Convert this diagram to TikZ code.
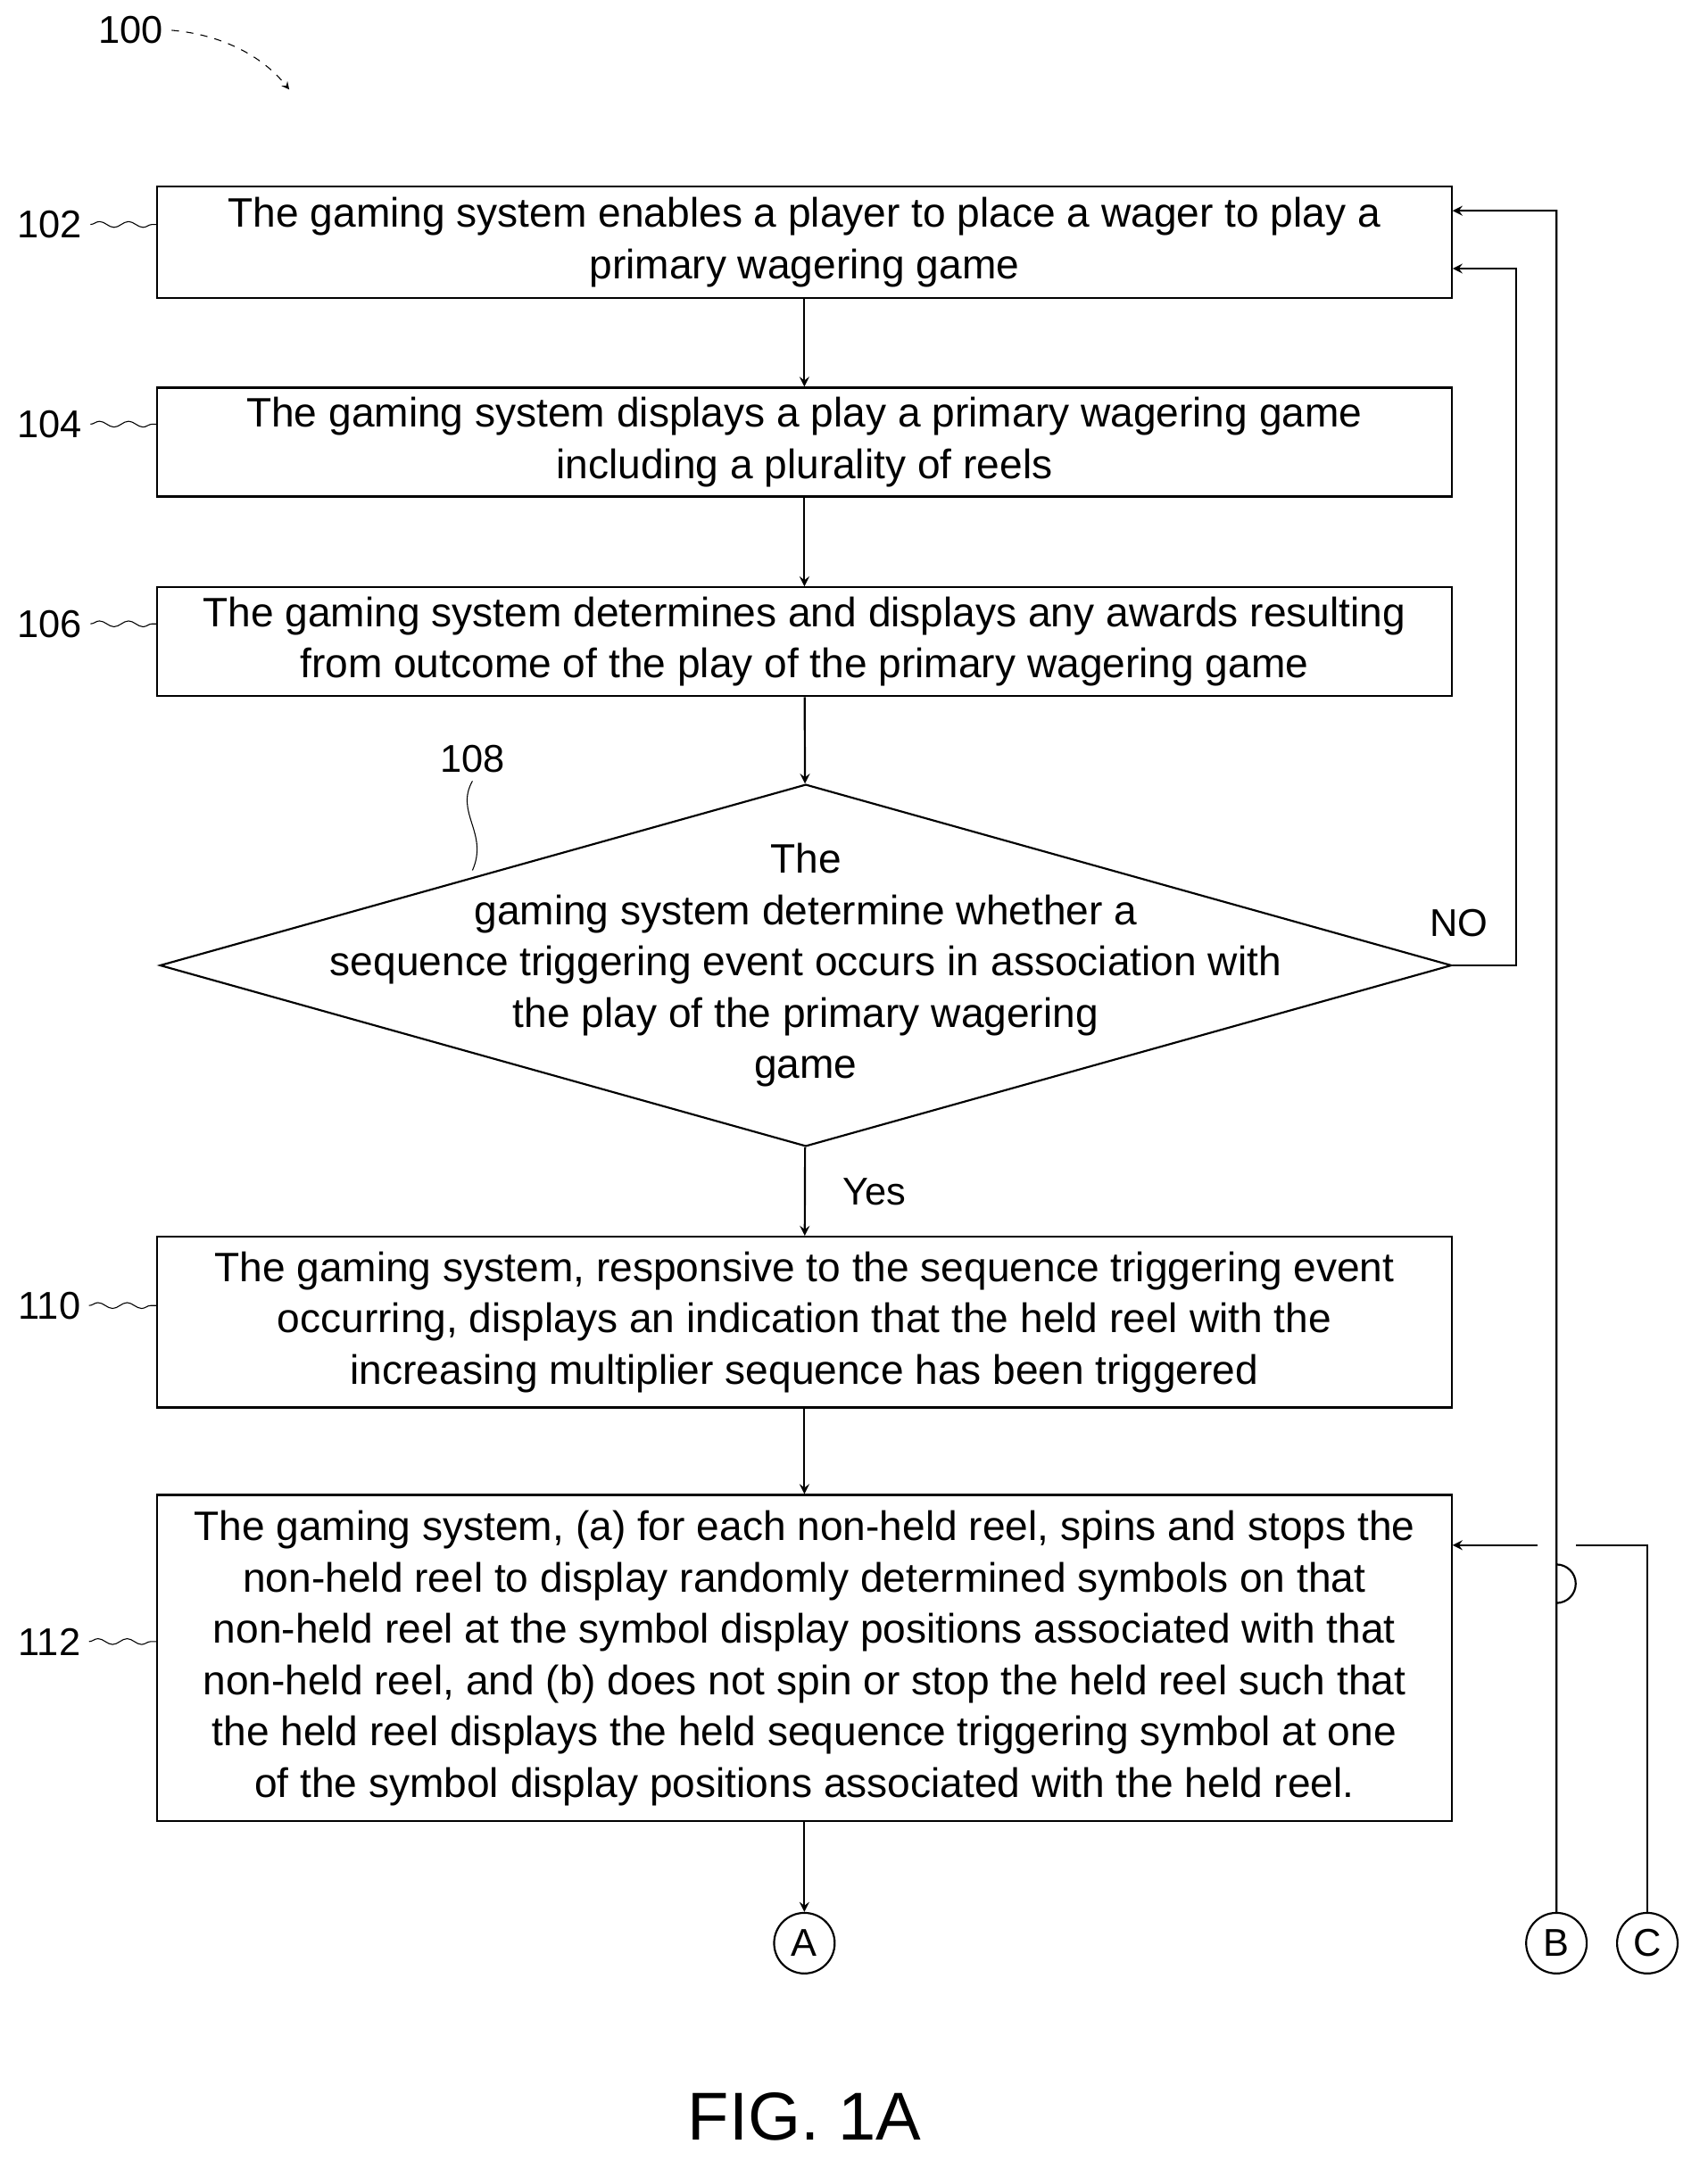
\documentclass[tikz,border=0pt]{standalone}
\usepackage{fontspec}
\setmainfont{Liberation Sans}
\usetikzlibrary{shapes.geometric, arrows, positioning, decorations.pathmorphing}

\begin{document}
\begin{tikzpicture}[
    x=0.02cm, y=-0.02cm,
    box/.style={rectangle, draw, thick, align=center, minimum width=18.8cm, inner sep=0pt, font=\fontsize{17}{21.2}\selectfont},
    decision/.style={diamond, draw, thick, minimum width=18.76cm, minimum height=5.26cm, inner sep=0pt},
    conn/.style={circle, draw, thick, minimum size=0.88cm, inner sep=0pt, font=\fontsize{16}{18}\selectfont},
    ref/.style={font=\fontsize{16}{18}\selectfont},
    lead/.style={thin, decorate, decoration={snake, amplitude=1.2pt, segment length=12pt}},
    arrow/.style={->, >=stealth, thick}
]
\useasboundingbox (0,0) rectangle (1240,1575);

% Boxes
\node[box, minimum height=1.62cm] (b102) at (584,176) {The gaming system enables a player to place a wager to play a\\primary wagering game};
\node[box, minimum height=1.58cm] (b104) at (584,321) {The gaming system displays a play a primary wagering game\\including a plurality of reels};
\node[box, minimum height=1.58cm] (b106) at (584,466) {The gaming system determines and displays any awards resulting\\from outcome of the play of the primary wagering game};
\node[decision] (d108) at (585,701) {};
\node[align=center, font=\fontsize{17}{21.2}\selectfont] at (d108) {The\\gaming system determine whether a\\sequence triggering event occurs in association with\\the play of the primary wagering\\game};
\node[box, minimum height=2.48cm] (b110) at (584,960) {The gaming system, responsive to the sequence triggering event\\occurring, displays an indication that the held reel with the\\increasing multiplier sequence has been triggered};
\node[box, minimum height=4.74cm] (b112) at (584,1204) {The gaming system, (a) for each non-held reel, spins and stops the\\non-held reel to display randomly determined symbols on that\\non-held reel at the symbol display positions associated with that\\non-held reel, and (b) does not spin or stop the held reel such that\\the held reel displays the held sequence triggering symbol at one\\of the symbol display positions associated with the held reel.};

% Connectors
\node[conn] (cA) at (584,1411) {A};
\node[conn] (cB) at (1130,1411) {B};
\node[conn] (cC) at (1196,1411) {C};

% Reference numerals
\node[ref] (r100) at (95,22) {100};
\node[ref] (r102) at (36,163) {102};
\node[ref] (r104) at (36,308) {104};
\node[ref] (r106) at (36,453) {106};
\node[ref] (r108) at (343,551) {108};
\node[ref] (r110) at (36,948) {110};
\node[ref] (r112) at (36,1192) {112};
\draw[thin, dashed, ->, >=stealth] (r100.east) .. controls (160,25) and (190,40) .. (210,65);
\draw[lead] (r102.east) -- (b102.west |- r102.east);
\draw[lead] (r104.east) -- (b104.west |- r104.east);
\draw[lead] (r106.east) -- (b106.west |- r106.east);
\draw[lead] (r110.east) -- (b110.west |- r110.east);
\draw[lead] (r112.east) -- (b112.west |- r112.east);
\draw[thin] (r108.south) .. controls (330,590) and (355,605) .. (343,632);

% Arrows
\draw[arrow] (b102) -- (b104);
\draw[arrow] (b104) -- (b106);
\draw[arrow] (b106) -- (d108);
\draw[arrow] (d108) -- node[right, ref, xshift=12pt] {Yes} (b110);
\draw[arrow] (b110) -- (b112);
\draw[arrow] (b112) -- (cA);
\draw[arrow] (d108.east) -- node[above, ref, pos=0.1, yshift=8pt] {NO} ++(46,0) |- (b102.east |- 0,195);
\draw[thick] (cC.north) |- (1144,1122);
\draw[arrow] (1116,1122) -- (b112.east |- 0,1122);
\draw[arrow] (cB.north) -- (1130,1136) arc (-90:90:14) -- (1130,153) -- (b102.east |- 0,153);

% Caption
\node[font=\fontsize{28}{32}\selectfont] (fig) at (584,1537) {FIG. 1A};
\end{tikzpicture}
\end{document}
